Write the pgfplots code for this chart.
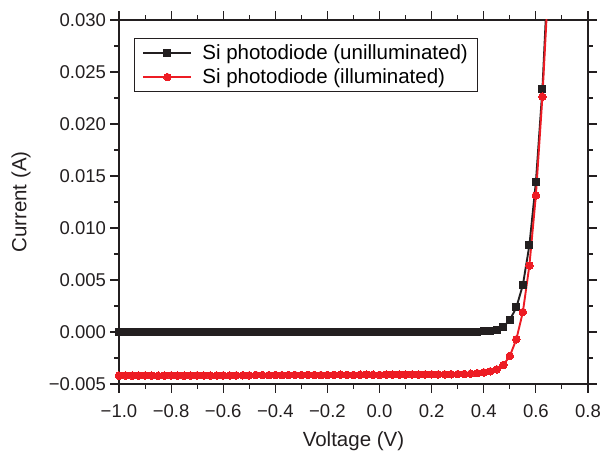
\documentclass[border=0pt]{standalone}
\usepackage{fontspec}
\setmainfont{Liberation Sans}
\usepackage{pgfplots}
\pgfplotsset{compat=1.18}
\definecolor{orired}{RGB}{237,28,36}
\definecolor{oriblk}{RGB}{35,31,32}
\begin{document}
\begin{tikzpicture}
\path[use as bounding box] (-119pt,-76pt) rectangle (496pt,384pt);
\begin{axis}[
  at={(0pt,0pt)}, anchor=south west,
  scale only axis, width=469pt, height=364pt,
  xmin=-1, xmax=0.8, ymin=-0.005, ymax=0.030,
  axis line style={line width=1.1pt, color=oriblk},
  tick style={line width=1.1pt, color=oriblk},
  tick align=outside,
  major tick length=8.5pt, minor tick length=4.5pt,
  xtick={-1,-0.8,-0.6,-0.4,-0.2,0,0.2,0.4,0.6,0.8},
  xticklabels={−1.0,−0.8,−0.6,−0.4,−0.2,0.0,0.2,0.4,0.6,0.8},
  minor xtick={-0.9,-0.7,-0.5,-0.3,-0.1,0.1,0.3,0.5,0.7},
  ytick={-0.005,0,0.005,0.01,0.015,0.02,0.025,0.03},
  yticklabels={−0.005,0.000,0.005,0.010,0.015,0.020,0.025,0.030},
  minor ytick={-0.0025,0.0025,0.0075,0.0125,0.0175,0.0225,0.0275},
  scaled y ticks=false,
  ticklabel style={font=\fontsize{18.5}{22}\selectfont, text=oriblk},
  xticklabel style={yshift=-9pt},
  yticklabel style={xshift=-1pt},
  xlabel={Voltage (V)}, ylabel={Current (A)},
  every axis x label/.style={at={(axis description cs:0.5,-0.157)}, anchor=center,
    font=\fontsize{20.5}{24}\selectfont, text=oriblk},
  every axis y label/.style={at={(axis description cs:-0.209,0.5)}, rotate=90, anchor=center,
    font=\fontsize{20.5}{24}\selectfont, text=oriblk},
  legend style={at={(axis description cs:0.032,0.95)}, anchor=north west,
    draw=oriblk, line width=0.9pt, font=\fontsize{20.5}{24}\selectfont,
    inner xsep=8pt, inner ysep=4pt, row sep=4pt, column sep=8pt, cells={anchor=west}},
  legend image code/.code={%
    \draw[mark repeat=2,mark phase=2,#1] plot coordinates {(0pt,0pt) (24pt,0pt) (48pt,0pt)};},
  clip=true,
]
\addplot[color=oriblk, line width=1.9pt, mark=square*, mark size=3.5pt, mark options={solid, fill=oriblk, line width=0pt}] coordinates {
(-1.000,-0.00003) (-0.975,-0.00004) (-0.950,-0.00003) (-0.925,-0.00002) (-0.900,-0.00003)
(-0.875,-0.00004) (-0.850,-0.00003) (-0.825,-0.00002) (-0.800,-0.00003) (-0.775,-0.00004)
(-0.750,-0.00003) (-0.725,-0.00003) (-0.700,-0.00002) (-0.675,-0.00003) (-0.650,-0.00004)
(-0.625,-0.00003) (-0.600,-0.00003) (-0.575,-0.00002) (-0.550,-0.00003) (-0.525,-0.00003)
(-0.500,-0.00004) (-0.475,-0.00003) (-0.450,-0.00002) (-0.425,-0.00003) (-0.400,-0.00003)
(-0.375,-0.00003) (-0.350,-0.00004) (-0.325,-0.00003) (-0.300,-0.00002) (-0.275,-0.00003)
(-0.250,-0.00003) (-0.225,-0.00003) (-0.200,-0.00003) (-0.175,-0.00004) (-0.150,-0.00003)
(-0.125,-0.00002) (-0.100,-0.00003) (-0.075,-0.00003) (-0.050,-0.00003) (-0.025,-0.00002)
(0.000,-0.00003) (0.025,-0.00003) (0.050,-0.00002) (0.075,-0.00002) (0.100,-0.00002)
(0.125,-0.00002) (0.150,-0.00001) (0.175,-0.00001) (0.200,0.00000) (0.225,0.00000)
(0.250,0.00000) (0.275,0.00001) (0.300,0.00001) (0.325,0.00002) (0.350,0.00003)
(0.375,0.00004) (0.400,0.00006) (0.425,0.00011) (0.450,0.00021) (0.475,0.00051)
(0.500,0.00115) (0.525,0.00237) (0.550,0.00452) (0.575,0.00833) (0.600,0.01442)
(0.625,0.02334) (0.650,0.03650)
};
\addlegendentry{Si photodiode (unilluminated)}
\addplot[color=orired, line width=1.9pt, mark=*, mark size=3.8pt, mark options={solid, fill=orired, line width=0pt}] coordinates {
(-1.000,-0.00420) (-0.975,-0.00418) (-0.950,-0.00420) (-0.925,-0.00419) (-0.900,-0.00418)
(-0.875,-0.00419) (-0.850,-0.00421) (-0.825,-0.00419) (-0.800,-0.00418) (-0.775,-0.00419)
(-0.750,-0.00420) (-0.725,-0.00418) (-0.700,-0.00417) (-0.675,-0.00418) (-0.650,-0.00419)
(-0.625,-0.00418) (-0.600,-0.00417) (-0.575,-0.00418) (-0.550,-0.00417) (-0.525,-0.00416)
(-0.500,-0.00417) (-0.475,-0.00413) (-0.450,-0.00414) (-0.425,-0.00415) (-0.400,-0.00414)
(-0.375,-0.00415) (-0.350,-0.00414) (-0.325,-0.00413) (-0.300,-0.00414) (-0.275,-0.00412)
(-0.250,-0.00413) (-0.225,-0.00414) (-0.200,-0.00413) (-0.175,-0.00412) (-0.150,-0.00411)
(-0.125,-0.00412) (-0.100,-0.00413) (-0.075,-0.00411) (-0.050,-0.00410) (-0.025,-0.00411)
(0.000,-0.00412) (0.025,-0.00410) (0.050,-0.00409) (0.075,-0.00410) (0.100,-0.00409)
(0.125,-0.00408) (0.150,-0.00409) (0.175,-0.00408) (0.200,-0.00407) (0.225,-0.00408)
(0.250,-0.00407) (0.275,-0.00406) (0.300,-0.00405) (0.325,-0.00404) (0.350,-0.00401)
(0.375,-0.00396) (0.400,-0.00388) (0.425,-0.00378) (0.450,-0.00359) (0.475,-0.00317)
(0.500,-0.00231) (0.525,-0.00070) (0.550,0.00192) (0.575,0.00638) (0.600,0.01314)
(0.625,0.02262) (0.650,0.03450)
};
\addlegendentry{Si photodiode (illuminated)}
\end{axis}
\end{tikzpicture}
\end{document}
